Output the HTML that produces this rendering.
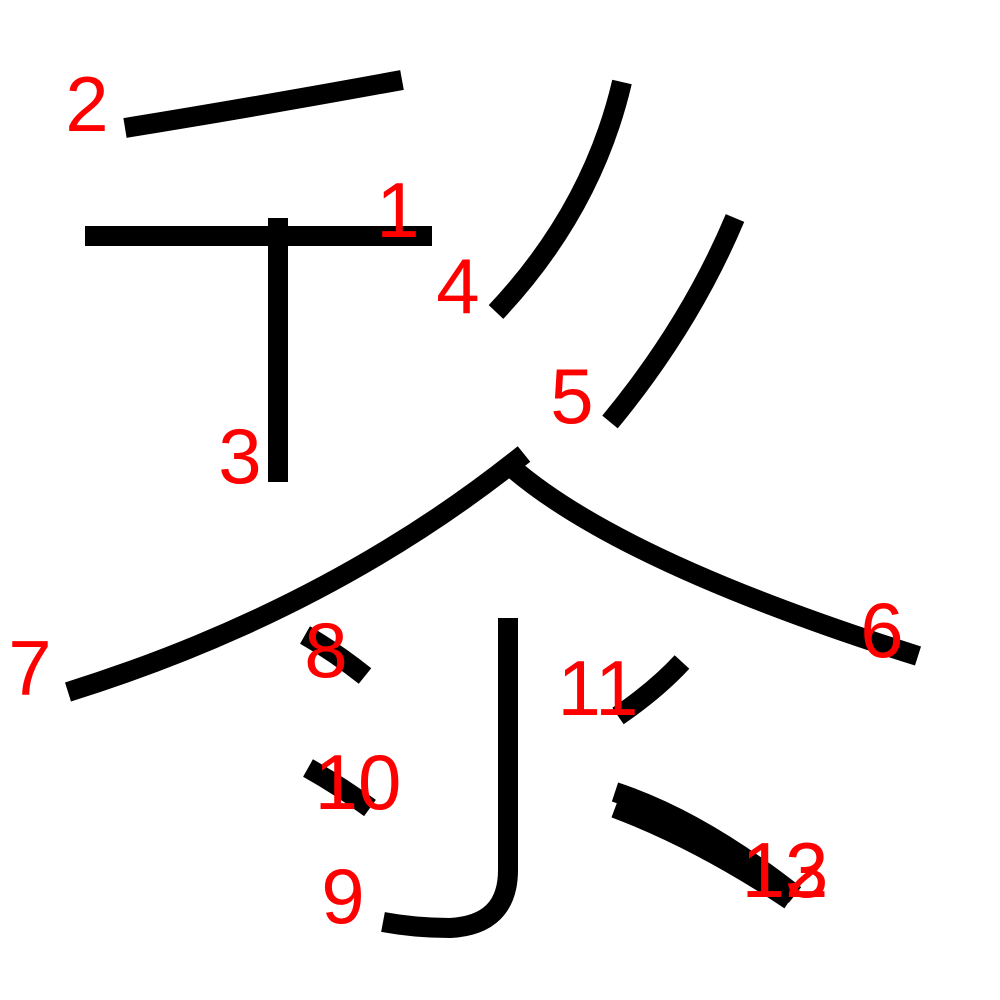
<!DOCTYPE html>
<html><head><meta charset="utf-8"><style>
html,body{margin:0;padding:0;background:#fff;}
svg{display:block;}
</style></head><body>
<svg width="1000" height="1000" viewBox="0 0 1000 1000">
<g fill="none" stroke="#000" stroke-width="20">
<path d="M85 236 L432 236"/>
<path d="M125 128 Q260 106 402 80"/>
<path d="M278 218 L278 482"/>
<path d="M622 82 Q592 210 496 312"/>
<path d="M735 218 Q690 325 610 422"/>
<path d="M510 466 Q620 562 918 656"/>
<path d="M524 454 Q330 610 68 692"/>
<path d="M305 635 Q335 652 365 676"/>
<path d="M508 618 L508 870 Q508 925 450 928 Q415 928 383 922"/>
<path d="M308 768 Q340 786 370 808"/>
<path d="M618 716 Q656 690 682 662"/>
<path d="M615 792 Q700 820 795 895"/>
<path d="M615 808 Q700 840 790 900"/>
</g>
<g fill="#f00" font-family="Liberation Sans, sans-serif" font-size="78" text-anchor="middle" dominant-baseline="central">
<text x="398" y="210">1</text>
<text x="87" y="104">2</text>
<text x="240" y="456">3</text>
<text x="458" y="286">4</text>
<text x="572" y="396">5</text>
<text x="882" y="630">6</text>
<text x="30" y="668">7</text>
<text x="326" y="650">8</text>
<text x="343" y="896">9</text>
<text x="358" y="782">10</text>
<text x="598" y="688">11</text>
<text x="785" y="870">12</text>
<text x="785" y="870">13</text>
</g>
</svg>
</body></html>
